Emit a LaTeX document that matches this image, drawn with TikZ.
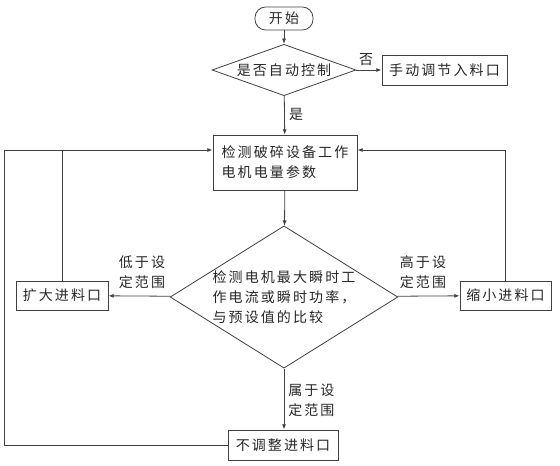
\documentclass[tikz,border=0pt]{standalone}
\usepackage{fontspec}
\newfontfamily\cjk[LetterSpace=15]{Noto Sans CJK SC}
\usetikzlibrary{arrows.meta,calc,shapes.geometric}
\def\px{0.75pt}
\tikzset{
	every node/.style={font=\cjk\fontsize{10.5}{15}\selectfont, text=black!85},
	flowbox/.style={draw=black!75, line width=0.6pt, rectangle, inner sep=0pt, align=left},
	startbox/.style={flowbox, rounded corners=8pt},
	choice/.style={draw=black!75, line width=0.6pt, diamond, inner sep=0pt, align=left},
	flow/.style={draw=black!75, line width=0.6pt, -{Latex[length=4pt,width=3pt]}},
	plain/.style={draw=black!75, line width=0.6pt},
	tag/.style={inner sep=0pt, align=left},
}

\begin{document}
\begin{tikzpicture}[x=\px, y=-\px]
			%%%%% START %%%%%
			\useasboundingbox (0, 0) rectangle (560, 465);
			
			\node[startbox, minimum width=58*\px, minimum height=23*\px] (start) at (284, 18.5) {开始};
			\node[choice, shape aspect=2.8, inner sep=1.3pt] (auto) at (284, 70) {是否自动控制};
			\node[flowbox, minimum width=125*\px, minimum height=30*\px] (manual) at (444.5, 70) {手动调节入料口};
			\node[flowbox, minimum width=144*\px, minimum height=55*\px] (detect) at (285, 162.5) {检测破碎设备工作\\电机电量参数};
			\node[choice, shape aspect=1.6] (compare) at (284, 297) {检测电机最大瞬时工\\作电流或瞬时功率，\\与预设值的比较};
			\node[flowbox, minimum width=92*\px, minimum height=29*\px] (expand) at (62, 295.5) {扩大进料口};
			\node[flowbox, minimum width=91*\px, minimum height=29*\px] (shrink) at (505.5, 295.5) {缩小进料口};
			\node[flowbox, minimum width=110*\px, minimum height=30*\px] (keep) at (283, 445) {不调整进料口};
			
			\node[tag] (no) at (366, 60) {否};
			\node[tag] (yes) at (296, 114) {是};
			\node[tag] (low) at (142, 272) {低于设\\定范围};
			\node[tag] (high) at (423, 272) {高于设\\定范围};
			\node[tag, anchor=west] (inside) at (288, 400) {属于设\\定范围};
			
			\coordinate (back) at (4, 150);
			
			\draw[flow] (start) -- (auto);
			\draw[flow] (auto) -- (manual);
			\draw[flow] (auto) -- (detect);
			\draw[flow] (detect) -- (compare);
			\draw[flow] (compare) -- (expand);
			\draw[flow] (compare) -- (shrink);
			\draw[flow] (compare.south) -- (keep.north -| compare.south);
			
			\draw[plain] (keep.west) -| (back) -- (expand.north |- back);
			\draw[flow] (expand.north) |- ($(detect.west)+(0, -12.5)$);
			\draw[flow] (shrink.north) |- ($(detect.east)+(0, -12.5)$);
			
			%%%%% END %%%%%
\end{tikzpicture}
\end{document}
